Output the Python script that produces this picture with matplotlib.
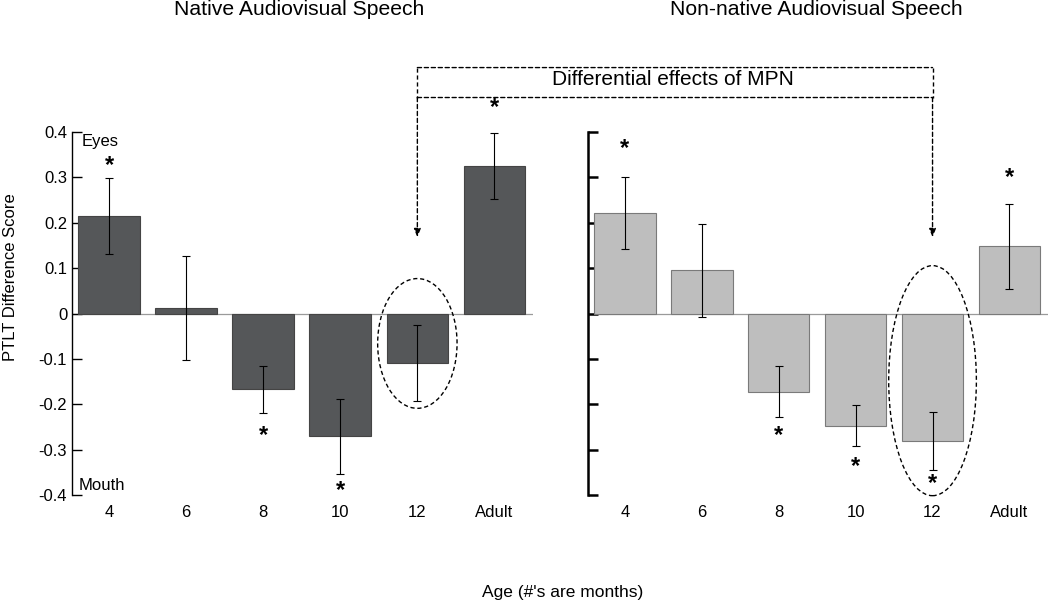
import matplotlib.pyplot as plt
from matplotlib.patches import Ellipse, ConnectionPatch

plt.rcParams['font.family'] = ['Liberation Sans', 'DejaVu Sans']

ages = ["4", "6", "8", "10", "12", "Adult"]
native_means = [0.215, 0.012, -0.167, -0.271, -0.109, 0.325]
native_err = [0.084, 0.115, 0.052, 0.083, 0.083, 0.073]
nonnative_means = [0.222, 0.095, -0.172, -0.247, -0.280, 0.148]
nonnative_err = [0.079, 0.103, 0.057, 0.046, 0.064, 0.093]

# significance stars: (bar index, y position)
native_stars = [(0, 0.326), (5, 0.454), (2, -0.27), (3, -0.39)]
nonnative_stars = [(0, 0.363), (5, 0.30), (2, -0.27), (3, -0.337), (4, -0.374)]

yticks = [0.4, 0.3, 0.2, 0.1, 0, -0.1, -0.2, -0.3, -0.4]
ytick_labels = ["0.4", "0.3", "0.2", "0.1", "0", "-0.1", "-0.2", "-0.3", "-0.4"]

fig = plt.figure(figsize=(10.5, 6), dpi=100)
ax1 = fig.add_axes([0.0686, 0.175, 0.439, 0.605])
ax2 = fig.add_axes([0.560, 0.175, 0.438, 0.605])

x = list(range(len(ages)))


def draw_panel(ax, means, err, stars, color, edge, spine_w):
    ax.bar(x, means, width=0.8, color=color, edgecolor=edge, linewidth=0.8, zorder=2)
    ax.errorbar(x, means, yerr=err, fmt='none', ecolor='black', elinewidth=0.8,
                capsize=3, capthick=0.8, zorder=3)
    ax.axhline(0, color='#9a9a9a', linewidth=0.9, zorder=1)
    for i, y in stars:
        ax.text(i, y, "*", ha='center', va='center', fontsize=17, fontweight='bold')
    ax.set_xlim(-0.48, 5.5)
    ax.set_ylim(-0.4, 0.4)
    ax.set_xticks(x)
    ax.set_xticklabels(ages, fontsize=12)
    ax.set_yticks(yticks)
    for s in ['top', 'right', 'bottom']:
        ax.spines[s].set_visible(False)
    ax.spines['left'].set_linewidth(spine_w)
    ax.tick_params(axis='x', length=0, pad=7)
    ax.tick_params(axis='y', direction='in', length=7, width=spine_w)


draw_panel(ax1, native_means, native_err, native_stars, '#555759', '#444444', 1.0)
draw_panel(ax2, nonnative_means, nonnative_err, nonnative_stars, '#bebebe', '#7a7a7a', 1.8)
ax1.set_yticklabels(ytick_labels, fontsize=12)
ax2.set_yticklabels([])

fig.text(0.285, 0.984, "Native Audiovisual Speech", ha='center', va='center', fontsize=15.2)
fig.text(0.777, 0.984, "Non-native Audiovisual Speech", ha='center', va='center', fontsize=15.2)
ax1.set_ylabel("PTLT Difference Score", fontsize=12)
ax1.yaxis.set_label_coords(-0.118, 0.6)

ax1.text(-0.36, 0.38, "Eyes", fontsize=12, va='center', ha='left')
ax1.text(-0.40, -0.38, "Mouth", fontsize=12, va='center', ha='left')

fig.text(0.536, 0.0133, "Age (#'s are months)", ha='center', va='center', fontsize=12.5)

# dashed ellipses around the 12 month bars
ax1.add_patch(Ellipse((4, -0.066), 1.03, 0.286, fill=False, linestyle=(0, (3, 2)),
                      linewidth=1.0, edgecolor='black', clip_on=False, zorder=4))
ax2.add_patch(Ellipse((4, -0.148), 1.14, 0.507, fill=False, linestyle=(0, (3, 2)),
                      linewidth=1.0, edgecolor='black', clip_on=False, zorder=4))

# bracket linking the two 12 month bars
box_top, box_bot, tip = 0.542, 0.476, 0.168
for y in (box_top, box_bot):
    con = ConnectionPatch(xyA=(4, y), coordsA=ax1.transData, xyB=(4, y), coordsB=ax2.transData,
                          linestyle=(0, (3, 2)), linewidth=1.0, color='black')
    fig.add_artist(con)
for ax in (ax1, ax2):
    ax.plot([4, 4], [box_top, box_bot], color='black', linestyle=(0, (3, 2)),
            linewidth=1.0, clip_on=False)
    ax.annotate("", xy=(4, tip), xytext=(4, box_bot),
                arrowprops=dict(arrowstyle='-|>,head_length=0.5,head_width=0.2',
                                linestyle=(0, (3, 2)), linewidth=1.0, color='black',
                                shrinkA=0, shrinkB=0),
                annotation_clip=False)

fig.text(0.641, 0.867, "Differential effects of MPN", ha='center', va='center', fontsize=15)

fig.savefig("out.png", dpi=100)
